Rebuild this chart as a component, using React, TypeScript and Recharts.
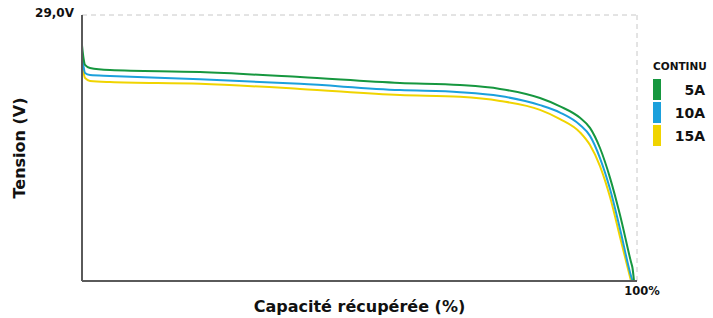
import React from "react";
import {
  LineChart, Line, XAxis, YAxis, ReferenceLine, Label,
} from "recharts";

// capacity recovered (%) shared by all three discharge curves
const capacity = [
  0, 0.27, 0.54, 1.44, 5.05, 21.26, 39.28, 57.3, 68.11, 75.32,
  82.52, 86.13, 89.73, 91.53, 93.33, 95.14, 96.94, 98.92, 99.19, 99.46,
];

// voltage (V) for each continuous discharge current
const v5A = [
  27.98, 27.55, 27.31, 27.21, 27.14, 27.07, 26.9, 26.7, 26.63, 26.5,
  26.19, 25.91, 25.52, 25.18, 24.5, 23.49, 22.23, 20.64, 20.44, 20.0,
];
const v10A = [
  27.65, 27.27, 27.04, 26.97, 26.94, 26.83, 26.67, 26.46, 26.39, 26.26,
  25.95, 25.7, 25.28, 24.91, 24.16, 23.11, 21.76, 20.17, 20.0, null,
];
const v15A = [
  27.41, 27.07, 26.87, 26.77, 26.73, 26.67, 26.5, 26.29, 26.23, 26.09,
  25.79, 25.48, 25.03, 24.6, 23.89, 22.84, 21.49, 20.0, null, null,
];

const seriesNames = ["5A", "10A", "15A"];
const seriesColors = ["#16973f", "#1ba0dc", "#f0d400"];
const xTicks = [100];
const yTicks = [29];

const data = capacity.map((c, i) => ({ c, s5: v5A[i], s10: v10A[i], s15: v15A[i] }));

const FONT = "'DejaVu Sans', sans-serif";

function LegendBox() {
  return (
    <div style={{ position: "absolute", left: 653, top: 60, width: 60, fontFamily: FONT, fontWeight: 700, color: "#111" }}>
      <div style={{ fontSize: 10.5, lineHeight: "12px", marginBottom: 7 }}>CONTINU</div>
      {seriesNames.map((n, i) => (
        <div key={n} style={{ display: "flex", alignItems: "center", height: 21, marginBottom: 2 }}>
          <div style={{ width: 8, height: 21, background: seriesColors[i] }} />
          <div style={{ flex: 1, textAlign: "right", fontSize: 14, paddingRight: 8 }}>{n}</div>
        </div>
      ))}
    </div>
  );
}

export default function App() {
  return (
    <div style={{ position: "absolute", left: 0, top: 0, width: 713, height: 318, background: "#fff" }}>
      <LineChart width={713} height={318} data={data} margin={{ top: 15, right: 76, left: 0, bottom: 0 }}>
        <XAxis
          dataKey="c"
          type="number"
          domain={[0, 100]}
          ticks={xTicks}
          tickFormatter={(v) => `${v}%`}
          tick={{ fontSize: 11.5, fontWeight: 700, fill: "#111", fontFamily: FONT, dx: 5, dy: -2 }}
          tickLine={false}
          axisLine={{ stroke: "#5a5a5a", strokeWidth: 2 }}
          height={37}
        >
          <Label
            value="Capacité récupérée (%)"
            position="insideBottom"
            offset={6}
            style={{ fontSize: 16, fontWeight: 700, fill: "#111", fontFamily: FONT }}
          />
        </XAxis>
        <YAxis
          type="number"
          domain={[20, 29]}
          ticks={yTicks}
          allowDataOverflow
          tickFormatter={(v) => `${v},0V`}
          tick={{ fontSize: 12, fontWeight: 700, fill: "#111", fontFamily: FONT, dy: -2 }}
          tickLine={false}
          axisLine={{ stroke: "#5a5a5a", strokeWidth: 2 }}
          width={82}
        >
          <Label
            value="Tension (V)"
            angle={-90}
            position="insideLeft"
            offset={19}
            style={{ fontSize: 16, fontWeight: 700, fill: "#111", fontFamily: FONT, textAnchor: "middle" }}
          />
        </YAxis>
        <ReferenceLine y={29} stroke="#c8c8c8" strokeDasharray="5 4" strokeWidth={1} />
        <ReferenceLine x={100} stroke="#c8c8c8" strokeDasharray="5 4" strokeWidth={1} />
        <Line type="monotone" dataKey="s15" name="15A" stroke={seriesColors[2]} strokeWidth={2} dot={false} isAnimationActive={false} />
        <Line type="monotone" dataKey="s10" name="10A" stroke={seriesColors[1]} strokeWidth={2} dot={false} isAnimationActive={false} />
        <Line type="monotone" dataKey="s5" name="5A" stroke={seriesColors[0]} strokeWidth={2} dot={false} isAnimationActive={false} />
      </LineChart>
      <LegendBox />
    </div>
  );
}
